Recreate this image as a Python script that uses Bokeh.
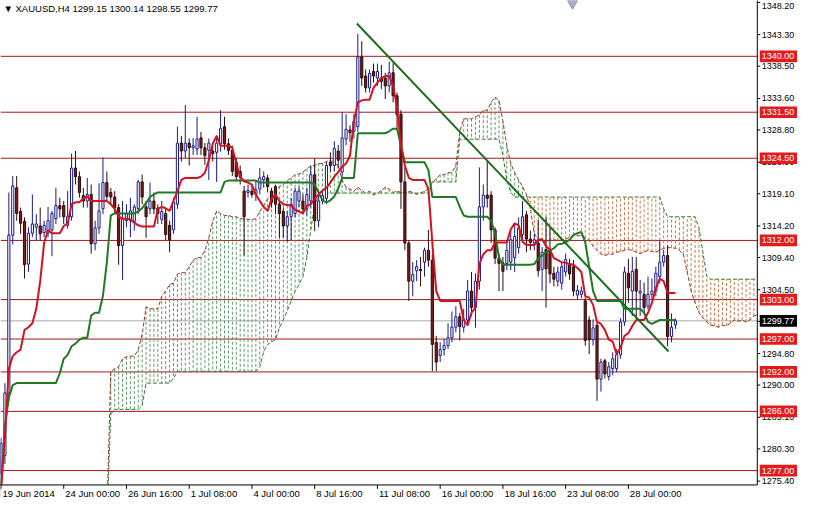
from bokeh.plotting import figure
from bokeh.models import Range1d, Span, ColumnDataSource
from bokeh.core.properties import value
from bokeh.embed import file_html
from bokeh.resources import INLINE

# ---------------- data (H4 bars, index 0 = 19 Jun 2014) ----------------
opens = [
1276.5, 1279.3, 1288.8, 1312.8, 1320.0, 1316.4, 1314.9, 1308.4, 1313.1, 1314.0,
1314.2, 1313.2, 1313.1, 1313.6, 1315.3, 1317.3, 1317.3, 1314.3, 1315.6, 1323.0,
1321.7, 1318.8, 1318.0, 1319.0, 1311.5, 1313.9, 1316.8, 1320.8, 1319.3, 1318.6,
1317.0, 1311.2, 1315.0, 1315.0, 1314.9, 1316.8, 1320.9, 1317.1, 1316.8, 1318.0,
1316.9, 1315.2, 1316.1, 1314.3, 1313.6, 1317.5, 1326.8, 1325.6, 1326.8, 1326.1,
1325.9, 1327.6, 1326.1, 1325.7, 1325.6, 1325.4, 1326.7, 1329.3, 1326.7, 1325.7,
1323.9, 1322.5, 1319.5, 1319.3, 1319.5, 1319.0, 1319.8, 1321.2, 1321.5, 1319.5,
1320.2, 1317.5, 1316.4, 1314.2, 1315.6, 1316.1, 1318.0, 1318.0, 1316.8, 1318.0,
1322.0, 1315.0, 1318.0, 1318.4, 1323.9, 1323.4, 1325.6, 1322.4, 1327.4, 1328.8,
1328.6, 1329.3, 1339.9, 1337.0, 1335.2, 1337.7, 1336.7, 1336.7, 1336.7, 1335.5,
1337.5, 1334.0, 1331.2, 1320.9, 1311.6, 1305.8, 1307.4, 1307.6, 1308.7, 1310.5,
1309.0, 1296.5, 1294.5, 1295.4, 1296.0, 1297.2, 1298.8, 1300.4, 1298.8, 1299.9,
1304.3, 1301.8, 1305.8, 1317.1, 1318.9, 1318.9, 1313.6, 1309.3, 1308.6, 1308.5,
1308.7, 1309.4, 1310.9, 1312.9, 1315.9, 1312.2, 1311.6, 1311.6, 1307.6, 1310.6,
1310.2, 1307.0, 1305.8, 1305.5, 1307.2, 1308.3, 1308.0, 1303.7, 1303.8, 1302.8,
1299.9, 1296.9, 1299.1, 1290.9, 1293.7, 1291.3, 1292.5, 1292.5, 1294.6, 1299.6,
1307.0, 1304.3, 1307.6, 1304.0, 1303.8, 1302.0, 1303.8, 1304.3, 1306.5, 1308.7,
1309.7, 1297.4, 1299.15]

highs = [
1282.0, 1290.3, 1319.3, 1321.8, 1321.8, 1317.0, 1315.5, 1314.0, 1319.0, 1316.0,
1317.0, 1315.0, 1317.1, 1316.5, 1320.0, 1318.5, 1318.0, 1319.5, 1325.2, 1325.6,
1322.5, 1320.0, 1321.5, 1320.5, 1315.0, 1320.7, 1324.6, 1322.5, 1320.0, 1319.5,
1317.5, 1318.0, 1317.5, 1318.5, 1317.5, 1321.2, 1322.0, 1318.0, 1320.8, 1319.3,
1317.5, 1318.0, 1316.8, 1315.0, 1318.5, 1329.3, 1327.9, 1332.6, 1327.5, 1327.6,
1330.8, 1328.5, 1326.8, 1327.5, 1326.5, 1328.0, 1331.8, 1330.8, 1327.5, 1326.4,
1324.6, 1323.4, 1320.3, 1320.5, 1320.3, 1321.0, 1323.0, 1322.5, 1322.0, 1320.0,
1320.5, 1318.0, 1317.0, 1316.5, 1318.5, 1320.0, 1320.2, 1319.0, 1320.0, 1323.4,
1324.5, 1319.0, 1319.5, 1323.9, 1325.4, 1327.1, 1326.5, 1331.5, 1331.2, 1329.5,
1331.2, 1343.4, 1342.3, 1338.0, 1338.0, 1338.9, 1338.9, 1338.7, 1337.5, 1339.2,
1339.0, 1334.5, 1331.8, 1323.1, 1312.0, 1308.7, 1309.0, 1309.5, 1310.9, 1313.6,
1310.0, 1297.5, 1296.5, 1297.0, 1299.4, 1301.2, 1302.0, 1301.0, 1301.6, 1306.0,
1307.2, 1307.0, 1323.1, 1320.5, 1324.2, 1319.5, 1314.0, 1310.0, 1309.5, 1312.0,
1313.5, 1314.5, 1315.5, 1318.0, 1316.5, 1313.5, 1313.0, 1315.1, 1311.0, 1315.6,
1313.9, 1308.0, 1308.0, 1308.7, 1310.0, 1309.2, 1309.0, 1305.2, 1305.0, 1303.3,
1300.5, 1300.0, 1299.5, 1294.0, 1294.0, 1293.5, 1295.0, 1295.5, 1300.2, 1308.0,
1309.2, 1309.5, 1309.5, 1306.0, 1305.6, 1306.5, 1306.2, 1308.0, 1311.9, 1310.6,
1311.2, 1300.9, 1300.14]

lows = [
1273.0, 1278.0, 1287.5, 1311.4, 1315.0, 1313.0, 1306.2, 1307.2, 1312.5, 1312.0,
1312.0, 1312.5, 1312.5, 1309.6, 1314.5, 1315.5, 1314.5, 1313.8, 1315.0, 1320.5,
1318.5, 1317.0, 1317.0, 1310.0, 1310.5, 1313.0, 1316.0, 1318.0, 1317.5, 1316.0,
1308.3, 1306.0, 1314.0, 1312.5, 1313.5, 1316.0, 1317.5, 1312.4, 1316.0, 1316.0,
1314.5, 1314.5, 1312.0, 1310.2, 1313.0, 1316.8, 1324.0, 1324.5, 1323.4, 1325.0,
1325.0, 1325.0, 1323.5, 1321.2, 1324.0, 1320.9, 1325.5, 1325.8, 1325.0, 1321.8,
1321.0, 1320.5, 1309.7, 1318.5, 1318.5, 1318.0, 1319.0, 1320.0, 1319.3, 1317.0,
1316.0, 1312.4, 1312.4, 1311.8, 1312.0, 1315.5, 1317.0, 1316.0, 1315.8, 1317.0,
1313.4, 1314.0, 1317.5, 1317.5, 1322.5, 1322.5, 1323.0, 1321.5, 1326.5, 1327.0,
1327.5, 1328.5, 1335.5, 1334.5, 1334.5, 1336.0, 1335.5, 1335.0, 1333.5, 1334.5,
1333.0, 1329.0, 1316.8, 1310.5, 1302.8, 1303.5, 1305.8, 1305.0, 1306.5, 1308.0,
1292.1, 1292.1, 1293.5, 1294.5, 1295.5, 1296.5, 1298.0, 1296.8, 1298.0, 1299.0,
1300.5, 1298.7, 1304.5, 1315.0, 1317.0, 1311.6, 1308.4, 1304.3, 1304.3, 1307.5,
1307.5, 1307.2, 1310.0, 1312.0, 1310.2, 1310.5, 1310.5, 1306.5, 1304.3, 1301.8,
1305.5, 1305.0, 1305.0, 1304.5, 1306.5, 1306.0, 1303.5, 1303.0, 1303.2, 1296.0,
1294.7, 1296.0, 1287.6, 1289.0, 1291.0, 1290.7, 1291.5, 1292.0, 1294.0, 1299.0,
1302.5, 1300.5, 1300.0, 1300.5, 1300.8, 1301.5, 1303.0, 1303.5, 1305.5, 1308.0,
1295.9, 1296.5, 1298.55]

closes = [
1281.2, 1288.8, 1312.8, 1320.3, 1316.1, 1314.6, 1308.3, 1313.1, 1314.5, 1314.5,
1313.0, 1314.3, 1315.0, 1316.1, 1317.3, 1316.8, 1315.6, 1315.6, 1323.0, 1321.7,
1319.3, 1318.0, 1319.0, 1311.5, 1313.9, 1316.5, 1320.8, 1318.7, 1318.6, 1317.0,
1311.2, 1315.3, 1316.1, 1316.5, 1317.1, 1320.9, 1318.6, 1315.6, 1318.0, 1316.8,
1316.1, 1316.4, 1312.9, 1312.1, 1317.8, 1326.8, 1325.6, 1326.8, 1326.1, 1326.4,
1327.4, 1326.1, 1324.9, 1326.8, 1325.2, 1326.8, 1329.0, 1326.7, 1325.7, 1322.5,
1321.7, 1321.6, 1315.6, 1319.6, 1319.0, 1319.7, 1321.5, 1321.7, 1320.2, 1317.8,
1317.5, 1316.1, 1314.2, 1315.6, 1317.5, 1319.5, 1319.5, 1316.8, 1319.0, 1322.0,
1315.0, 1318.0, 1318.8, 1323.4, 1323.4, 1326.0, 1324.2, 1327.6, 1328.9, 1328.4,
1330.1, 1339.9, 1336.7, 1335.2, 1337.4, 1337.0, 1337.7, 1336.2, 1335.5, 1337.5,
1334.0, 1331.1, 1320.9, 1311.6, 1305.8, 1306.8, 1308.0, 1307.4, 1310.5, 1309.0,
1296.2, 1293.5, 1295.4, 1296.0, 1297.2, 1298.8, 1300.4, 1298.9, 1300.0, 1304.3,
1301.8, 1305.8, 1317.1, 1318.9, 1318.4, 1313.6, 1309.3, 1308.5, 1307.3, 1310.5,
1312.1, 1312.6, 1313.9, 1315.6, 1312.2, 1311.7, 1312.1, 1307.4, 1310.2, 1307.7,
1306.9, 1306.1, 1307.2, 1308.0, 1309.1, 1306.9, 1304.3, 1304.4, 1304.3, 1296.8,
1296.9, 1298.7, 1290.9, 1293.5, 1291.7, 1292.8, 1294.0, 1294.6, 1299.6, 1307.2,
1304.8, 1307.3, 1304.3, 1304.3, 1301.8, 1303.8, 1304.3, 1307.0, 1308.7, 1309.7,
1297.4, 1298.8, 1299.77]

tenkan = [
1274.0, 1282.2, 1292.5, 1294.4, 1295.0, 1295.4, 1298.4, 1298.8, 1299.4, 1301.6,
1305.8, 1311.6, 1313.6, 1313.1, 1313.1, 1313.1, 1314.2, 1314.6, 1317.5, 1317.8,
1317.8, 1318.4, 1318.7, 1318.0, 1318.0, 1318.0, 1318.0, 1318.0, 1317.5, 1316.8,
1315.6, 1315.3, 1315.3, 1315.2, 1314.7, 1314.3, 1314.1, 1314.1, 1314.1, 1314.1,
1316.8, 1317.1, 1316.9, 1316.5, 1318.0, 1319.5, 1321.2, 1321.5, 1321.5, 1321.5,
1321.5, 1321.7, 1322.3, 1324.2, 1326.7, 1327.9, 1326.4, 1326.4, 1326.4, 1326.1,
1323.7, 1321.7, 1321.0, 1320.8, 1320.5, 1319.0, 1318.0, 1317.1, 1316.5, 1318.3,
1319.0, 1318.0, 1317.5, 1317.4, 1317.3, 1316.7, 1316.4, 1316.1, 1317.3, 1317.5,
1318.3, 1319.0, 1319.6, 1320.0, 1320.8, 1321.7, 1322.4, 1323.2, 1323.7, 1324.9,
1330.1, 1333.0, 1333.3, 1333.4, 1333.4, 1335.2, 1336.0, 1336.7, 1337.0, 1337.0,
1335.5, 1332.3, 1326.4, 1323.4, 1321.5, 1321.2, 1321.2, 1321.2, 1321.2, 1319.8,
1311.6, 1304.3, 1302.8, 1302.8, 1302.8, 1302.8, 1302.8, 1302.8, 1299.9, 1299.1,
1301.0, 1301.8, 1308.4, 1309.9, 1310.5, 1310.5, 1311.7, 1311.7, 1311.7, 1311.7,
1313.7, 1314.6, 1314.3, 1311.8, 1311.3, 1311.3, 1311.3, 1312.1, 1312.2, 1311.1,
1310.6, 1309.3, 1309.0, 1308.7, 1308.6, 1308.4, 1308.3, 1307.8, 1307.2, 1303.5,
1303.3, 1302.2, 1299.6, 1299.3, 1298.4, 1296.9, 1296.6, 1294.7, 1295.7, 1297.5,
1297.9, 1299.0, 1299.9, 1299.9, 1299.9, 1301.0, 1302.5, 1304.7, 1306.2, 1305.8,
1304.0, 1304.0, 1304.0]

kijun = [
1274.5, 1283.7, 1288.1, 1290.0, 1290.3, 1290.3, 1290.3, 1290.3, 1290.3, 1290.3,
1290.3, 1290.3, 1290.3, 1290.3, 1290.3, 1291.8, 1294.0, 1294.6, 1295.9, 1296.3,
1296.9, 1297.2, 1297.2, 1300.6, 1301.0, 1301.0, 1303.6, 1308.7, 1315.8, 1316.1,
1316.1, 1316.1, 1316.1, 1316.1, 1316.1, 1316.4, 1316.9, 1317.7, 1318.6, 1319.0,
1319.3, 1319.3, 1319.3, 1319.3, 1319.3, 1319.3, 1319.3, 1319.3, 1319.3, 1319.3,
1319.3, 1319.3, 1319.3, 1319.3, 1319.3, 1319.3, 1319.3, 1320.9, 1321.1, 1321.1,
1321.1, 1321.1, 1321.1, 1321.1, 1321.1, 1321.1, 1320.8, 1320.8, 1320.8, 1320.8,
1320.8, 1320.8, 1320.8, 1320.8, 1320.8, 1320.8, 1320.8, 1320.8, 1320.8, 1320.8,
1320.5, 1319.3, 1318.1, 1317.8, 1318.1, 1318.7, 1319.9, 1321.5, 1321.5, 1321.5,
1321.5, 1328.3, 1328.3, 1328.3, 1328.3, 1328.3, 1328.3, 1328.3, 1328.3, 1328.6,
1329.0, 1329.0, 1326.4, 1323.9, 1323.9, 1323.9, 1323.9, 1323.9, 1323.9, 1322.7,
1318.6, 1318.6, 1318.6, 1318.6, 1318.6, 1318.6, 1318.6, 1317.1, 1315.8, 1315.6,
1315.6, 1315.6, 1315.6, 1315.6, 1315.6, 1315.0, 1313.1, 1309.4, 1308.3, 1308.3,
1308.3, 1308.3, 1308.3, 1308.3, 1308.3, 1308.3, 1308.4, 1309.3, 1309.7, 1310.2,
1310.5, 1310.8, 1311.4, 1311.5, 1311.7, 1312.1, 1312.8, 1313.1, 1313.3, 1311.7,
1308.0, 1304.3, 1302.8, 1302.8, 1302.8, 1302.8, 1302.8, 1302.8, 1302.8, 1301.6,
1301.6, 1301.6, 1301.6, 1301.6, 1301.0, 1299.6, 1299.3, 1299.6, 1299.9, 1299.9,
1299.9, 1299.9, 1299.9]

cloud_start = 27   # first bar index of the cloud arrays (runs 26 bars past the last candle)
span_a = [
1270.4, 1292.0, 1292.5, 1292.8, 1294.0, 1294.3, 1294.4, 1294.4, 1295.4, 1297.7,
1301.9, 1301.6, 1301.6, 1301.6, 1303.5, 1304.3, 1305.3, 1305.5, 1306.9, 1307.1,
1307.1, 1308.0, 1309.0, 1309.4, 1309.4, 1310.5, 1312.4, 1314.9, 1316.5, 1316.1,
1315.8, 1315.8, 1315.6, 1315.6, 1315.3, 1315.3, 1315.2, 1315.2, 1315.3, 1316.4,
1317.3, 1318.3, 1319.0, 1319.6, 1320.2, 1320.5, 1321.1, 1321.5, 1322.0, 1322.1,
1322.4, 1322.9, 1323.3, 1323.4, 1323.7, 1323.7, 1324.0, 1324.2, 1323.7, 1323.4,
1321.2, 1320.1, 1319.8, 1319.5, 1320.1, 1319.6, 1319.2, 1319.5, 1318.9, 1319.2,
1319.6, 1320.1, 1319.8, 1319.3, 1319.5, 1319.3, 1319.2, 1319.5, 1319.3, 1319.0,
1319.2, 1319.5, 1319.8, 1320.8, 1321.4, 1322.0, 1322.0, 1322.3, 1322.3, 1323.4,
1328.6, 1330.5, 1330.5, 1330.5, 1330.8, 1331.1, 1331.8, 1331.8, 1333.0, 1333.8,
1333.3, 1330.1, 1326.4, 1323.7, 1322.3, 1321.2, 1320.2, 1319.0, 1316.8, 1313.1,
1312.0, 1312.0, 1311.8, 1312.0, 1312.1, 1312.0, 1312.1, 1312.2, 1312.5, 1312.8,
1312.7, 1312.7, 1312.4, 1312.0, 1311.1, 1310.5, 1309.9, 1309.7, 1309.9, 1309.9,
1310.2, 1310.3, 1310.5, 1310.6, 1310.5, 1310.2, 1310.0, 1310.2, 1310.5, 1310.3,
1310.2, 1310.5, 1310.8, 1310.9, 1310.9, 1310.8, 1310.5, 1309.9, 1307.2, 1304.3,
1302.5, 1301.0, 1300.2, 1299.6, 1299.1, 1299.0, 1298.8, 1299.1, 1299.0, 1299.4,
1299.9, 1299.7, 1299.9, 1299.6, 1299.9, 1300.5, 1300.7]

span_b = [
1269.0, 1285.6, 1286.3, 1286.3, 1286.3, 1286.3, 1286.3, 1286.3, 1286.3, 1286.9,
1290.3, 1290.3, 1290.3, 1290.3, 1290.3, 1290.3, 1290.3, 1291.0, 1292.1, 1292.1,
1292.1, 1292.1, 1292.1, 1292.1, 1292.1, 1292.1, 1292.1, 1292.1, 1292.1, 1292.1,
1292.1, 1292.1, 1292.1, 1292.1, 1292.1, 1292.1, 1292.1, 1292.1, 1292.1, 1292.8,
1295.1, 1296.2, 1296.6, 1296.9, 1298.7, 1299.9, 1301.3, 1302.8, 1304.3, 1305.3,
1306.5, 1309.4, 1313.6, 1317.5, 1318.6, 1318.7, 1319.2, 1319.2, 1319.2, 1319.2,
1319.2, 1319.2, 1319.2, 1319.2, 1319.2, 1319.2, 1319.2, 1319.2, 1319.2, 1319.2,
1319.2, 1319.2, 1319.2, 1319.2, 1319.2, 1319.2, 1319.2, 1319.2, 1319.2, 1319.2,
1319.2, 1319.2, 1319.2, 1320.9, 1320.9, 1320.9, 1320.9, 1320.9, 1320.9, 1320.9,
1327.4, 1327.4, 1327.4, 1327.4, 1327.4, 1327.4, 1327.4, 1327.4, 1327.4, 1327.4,
1327.4, 1324.9, 1321.2, 1319.3, 1318.6, 1318.6, 1318.6, 1318.6, 1318.6, 1318.6,
1318.6, 1318.6, 1318.6, 1318.6, 1318.6, 1318.6, 1318.6, 1318.6, 1318.6, 1318.6,
1318.6, 1318.6, 1318.6, 1318.6, 1318.6, 1318.6, 1318.6, 1318.6, 1318.6, 1318.6,
1318.6, 1318.6, 1318.6, 1318.6, 1318.6, 1318.6, 1318.6, 1318.6, 1318.6, 1318.6,
1318.6, 1318.6, 1316.8, 1315.6, 1315.6, 1315.6, 1315.6, 1315.6, 1315.6, 1315.6,
1315.6, 1313.9, 1310.2, 1306.5, 1306.1, 1306.1, 1306.1, 1306.1, 1306.1, 1306.1,
1306.1, 1306.1, 1306.1, 1306.1, 1306.1, 1306.1, 1306.1]

levels = [1340.0, 1331.5, 1324.5, 1312.0, 1303.0, 1297.0, 1292.0, 1286.0, 1277.0]
last_price = 1299.77
y_ticks = [1348.2, 1343.3, 1338.5, 1333.6, 1328.8, 1323.9, 1319.1, 1314.2,
           1309.4, 1304.5, 1299.7, 1294.8, 1290.0, 1285.1, 1280.3, 1275.4]
x_tick_bars = [0, 16, 32, 48, 64, 80, 96, 112, 128, 144, 160]
x_tick_labels = ["19 Jun 2014", "24 Jun 00:00", "26 Jun 16:00", "1 Jul 08:00",
                 "4 Jul 00:00", "8 Jul 16:00", "11 Jul 08:00", "16 Jul 00:00",
                 "18 Jul 16:00", "23 Jul 08:00", "28 Jul 00:00"]
trend_x = [90.75, 170.25]
trend_y = [1345.0, 1295.1]
title_text = "\u25bc XAUUSD,H4  1299.15 1300.14 1298.55 1299.77"

# ---------------- geometry ----------------
FONT = value("Liberation Sans")
FS = value("9.5px")       # time scale + header
FS_P = value("9px")       # price scale (must fit the narrow right strip)
PX_X = 0.25          # bars per reference pixel (4 px per bar)
PX_Y = 0.14736       # price units per reference pixel
X0 = -0.125
X1 = X0 + 813 * PX_X
Y1 = 1348.49
Y0 = Y1 - 515 * PX_Y
AX_X = X0 + 772 * PX_X      # right price-scale line
AX_Y = Y1 - 500 * PX_Y      # bottom time-scale line

p = figure(width=797, height=499, x_range=Range1d(X0, X1), y_range=Range1d(Y0, Y1),
           output_backend="svg", toolbar_location=None,
           x_axis_location=None, y_axis_location=None,
           min_border_left=0, min_border_top=0, min_border_right=0, min_border_bottom=0)
p.xgrid.visible = False
p.ygrid.visible = False
p.outline_line_color = None
p.background_fill_color = "white"
p.border_fill_color = "white"

# horizontal support/resistance lines + current price line
for lv in levels:
    p.add_layout(Span(location=lv, dimension="width", line_color="#a8171a",
                      line_width=1, level="underlay"))
p.add_layout(Span(location=last_price, dimension="width", line_color="#a9a9a9",
                  line_width=1, level="underlay"))

# ---------------- Ichimoku cloud ----------------
cx = list(range(cloud_start, cloud_start + len(span_a)))
g = dict(x=[], a=[], b=[])
r = dict(x=[], a=[], b=[])
for x, a, b in zip(cx, span_a, span_b):
    d = g if a >= b else r
    d["x"].append(x)
    d["a"].append(a)
    d["b"].append(b)
p.segment(x0="x", x1="x", y0="a", y1="b", source=ColumnDataSource(g),
          line_color="#5f9868", line_width=1, line_dash="3 2")
p.segment(x0="x", x1="x", y0="a", y1="b", source=ColumnDataSource(r),
          line_color="#c47a4a", line_width=1, line_dash="3 2")
p.line(cx, span_a, line_color="#9a3b25", line_width=1, line_dash="4 2")
p.line(cx, span_b, line_color="#2f7d32", line_width=1, line_dash="4 2")

# ---------------- candles ----------------
up = dict(x=[], top=[], bottom=[], hi=[], lo=[])
dn = dict(x=[], top=[], bottom=[], hi=[], lo=[])
for i, (o, h, l, c) in enumerate(zip(opens, highs, lows, closes)):
    d = up if c >= o else dn
    d["x"].append(i)
    d["top"].append(max(o, c))
    d["bottom"].append(min(o, c))
    d["hi"].append(h)
    d["lo"].append(l)
su = ColumnDataSource(up)
sd = ColumnDataSource(dn)
p.segment(x0="x", x1="x", y0="lo", y1="hi", source=su, line_color="#1a1a8c", line_width=1)
p.segment(x0="x", x1="x", y0="lo", y1="hi", source=sd, line_color="#2b0b0b", line_width=1)
p.vbar(x="x", top="top", bottom="bottom", width=0.55, source=su,
       fill_color="white", line_color="#1a1a8c", line_width=1)
p.vbar(x="x", top="top", bottom="bottom", width=0.55, source=sd,
       fill_color="#7e1b1b", line_color="#2b0b0b", line_width=1)

# ---------------- Tenkan / Kijun / trend line ----------------
idx = list(range(len(tenkan)))
p.line(idx, kijun, line_color="#1f7a24", line_width=2)
p.line(idx, tenkan, line_color="#d4121f", line_width=2)
p.line(trend_x, trend_y, line_color="#1c6e1f", line_width=2)

# chart shift marker at the top
p.scatter([145.75], [Y1 - 3 * PX_Y], marker="inverted_triangle", size=10,
          fill_color="#a9b1bf", line_color="#8d96a6")

# ---------------- price / time scales (outside the chart area) ----------------
p.quad(left=[AX_X], right=[X1 + 1], bottom=[Y0 - 1], top=[Y1 + 1],
       fill_color="white", line_color=None)
p.quad(left=[X0 - 1], right=[X1 + 1], bottom=[Y0 - 1], top=[AX_Y],
       fill_color="white", line_color=None)
p.segment(x0=[AX_X], x1=[AX_X], y0=[AX_Y], y1=[Y1 + 1], line_color="black", line_width=1)
p.segment(x0=[X0 - 1], x1=[AX_X], y0=[AX_Y], y1=[AX_Y], line_color="black", line_width=1)

# price ticks + labels (the topmost label is kept just inside the page)
p.segment(x0=[AX_X] * len(y_ticks), x1=[AX_X + 3 * PX_X] * len(y_ticks),
          y0=y_ticks, y1=y_ticks, line_color="black", line_width=1)
p.text(x=[AX_X + 4.5 * PX_X] * len(y_ticks), y=[min(t, Y1 - 5.5 * PX_Y) for t in y_ticks],
       text=[f"{t:.2f}" for t in y_ticks], text_font=FONT, text_font_size=FS_P,
       text_color="black", text_align="left", text_baseline="middle")

# time ticks + labels
p.segment(x0=x_tick_bars, x1=x_tick_bars, y0=[AX_Y] * len(x_tick_bars),
          y1=[AX_Y - 4 * PX_Y] * len(x_tick_bars), line_color="black", line_width=1)
p.text(x=[b + 1.5 * PX_X for b in x_tick_bars], y=[Y1 - 509 * PX_Y] * len(x_tick_bars),
       text=x_tick_labels, text_font=FONT, text_font_size=FS,
       text_color="black", text_align="left", text_baseline="middle")

# red level boxes and black current-price box on the price scale
p.quad(left=[AX_X + 2.5 * PX_X] * len(levels), right=[X1 + 1] * len(levels),
       bottom=[lv - 6 * PX_Y for lv in levels], top=[lv + 6 * PX_Y for lv in levels],
       fill_color="#e31b1b", line_color=None)
p.text(x=[AX_X + 4.5 * PX_X] * len(levels), y=levels, text=[f"{lv:.2f}" for lv in levels],
       text_font=FONT, text_font_size=FS_P, text_color="white",
       text_align="left", text_baseline="middle")
p.quad(left=[AX_X + 2.5 * PX_X], right=[X1 + 1],
       bottom=[last_price - 6 * PX_Y], top=[last_price + 6 * PX_Y],
       fill_color="black", line_color=None)
p.text(x=[AX_X + 4.5 * PX_X], y=[last_price], text=[f"{last_price:.2f}"],
       text_font=FONT, text_font_size=FS_P, text_color="white",
       text_align="left", text_baseline="middle")

# header text
p.text(x=[X0 + 3 * PX_X], y=[Y1 - 8 * PX_Y], text=[title_text], text_font=FONT,
       text_font_size=FS, text_color="black", text_align="left", text_baseline="middle")

open("out.html", "w").write(file_html(p, INLINE, "XAUUSD H4"))
